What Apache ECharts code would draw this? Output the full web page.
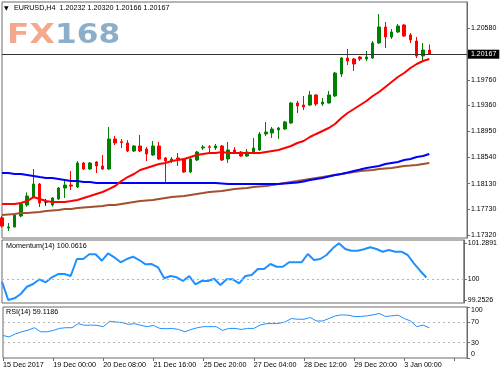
<!DOCTYPE html>
<html>
<head>
<meta charset="utf-8">
<script src="https://cdn.jsdelivr.net/npm/echarts@6/dist/echarts.min.js"></script>
<style>
html,body{margin:0;padding:0;background:#fff;}
#c{width:500px;height:375px;}
</style>
</head>
<body>
<div id="c"></div>
<script>
// ---- data ----
const times = [
'15 Dec 16:00','15 Dec 20:00',
'18 Dec 00:00','18 Dec 04:00','18 Dec 08:00','18 Dec 12:00','18 Dec 16:00','18 Dec 20:00',
'19 Dec 00:00','19 Dec 04:00','19 Dec 08:00','19 Dec 12:00','19 Dec 16:00','19 Dec 20:00',
'20 Dec 00:00','20 Dec 04:00','20 Dec 08:00','20 Dec 12:00','20 Dec 16:00','20 Dec 20:00',
'21 Dec 00:00','21 Dec 04:00','21 Dec 08:00','21 Dec 12:00','21 Dec 16:00','21 Dec 20:00',
'22 Dec 00:00','22 Dec 04:00','22 Dec 08:00','22 Dec 12:00','22 Dec 16:00','22 Dec 20:00',
'25 Dec 20:00',
'26 Dec 00:00','26 Dec 04:00','26 Dec 08:00','26 Dec 12:00','26 Dec 16:00','26 Dec 20:00',
'27 Dec 00:00','27 Dec 04:00','27 Dec 08:00','27 Dec 12:00','27 Dec 16:00','27 Dec 20:00',
'28 Dec 00:00','28 Dec 04:00','28 Dec 08:00','28 Dec 12:00','28 Dec 16:00','28 Dec 20:00',
'29 Dec 00:00','29 Dec 04:00','29 Dec 08:00','29 Dec 12:00','29 Dec 16:00','29 Dec 20:00',
'1 Jan 20:00',
'2 Jan 00:00','2 Jan 04:00','2 Jan 08:00','2 Jan 12:00','2 Jan 16:00','2 Jan 20:00',
'3 Jan 00:00','3 Jan 04:00','3 Jan 08:00','3 Jan 12:00','3 Jan 16:00',
'3 Jan 20:00','4 Jan 00:00','4 Jan 04:00','4 Jan 08:00','4 Jan 12:00','4 Jan 16:00'
];
const xTickLabels = ['15 Dec 2017','19 Dec 00:00','20 Dec 08:00','21 Dec 16:00','25 Dec 20:00','27 Dec 04:00','28 Dec 12:00','29 Dec 20:00','3 Jan 00:00'];

const opens = [1.17590,1.17430,1.17446,1.17619,1.17792,1.17918,1.18123,1.17840,1.17792,1.17887,
1.18060,1.18107,1.18076,1.18454,1.18359,1.18470,1.18407,1.18359,1.18832,1.18790,
1.18769,1.18643,1.18722,1.18674,1.18580,1.18722,1.18533,1.18485,1.18533,1.18517,
1.18312,1.18501,1.18690,1.18710,1.18690,1.18722,1.18517,1.18659,1.18627,1.18564,
1.18627,1.18659,1.18911,1.18926,1.18974,1.18989,1.19084,1.19399,1.19367,1.19367,
1.19525,1.19383,1.19399,1.19509,1.19855,1.20107,1.20092,1.20123,1.20092,1.20107,
1.20344,1.20596,1.20438,1.20517,1.20627,1.20470,1.20375,1.20139,1.20232];
const closes = [1.17460,1.17446,1.17635,1.17808,1.17934,1.18123,1.17824,1.17840,1.17903,1.18060,
1.18107,1.18090,1.18454,1.18359,1.18454,1.18407,1.18359,1.18832,1.18769,1.18775,
1.18643,1.18722,1.18643,1.18596,1.18722,1.18517,1.18485,1.18517,1.18517,1.18312,
1.18517,1.18627,1.18706,1.18700,1.18722,1.18501,1.18659,1.18611,1.18564,1.18627,
1.18690,1.18911,1.18942,1.18989,1.19005,1.19100,1.19399,1.19351,1.19336,1.19525,
1.19383,1.19414,1.19525,1.19871,1.20107,1.20060,1.20013,1.20092,1.20123,1.20344,
1.20596,1.20438,1.20517,1.20611,1.20454,1.20391,1.20139,1.20233,1.20167];
const lows = [1.17440,1.17383,1.17440,1.17600,1.17765,1.17900,1.17760,1.17780,1.17770,1.17870,
1.17903,1.18029,1.18060,1.18344,1.18344,1.18296,1.18344,1.18344,1.18737,1.18690,
1.18627,1.18627,1.18627,1.18485,1.18564,1.18501,1.18155,1.18454,1.18407,1.18296,
1.18296,1.18485,1.18659,1.18627,1.18659,1.18485,1.18454,1.18600,1.18548,1.18548,
1.18620,1.18643,1.18879,1.18848,1.18832,1.18974,1.19070,1.19241,1.19288,1.19351,
1.19351,1.19351,1.19390,1.19493,1.19808,1.19997,1.19903,1.20060,1.20060,1.20092,
1.20328,1.20265,1.20407,1.20501,1.20438,1.20344,1.20107,1.20076,1.20166];
const highs = [1.17620,1.17509,1.17650,1.17824,1.17990,1.18359,1.18140,1.17887,1.17918,1.18076,
1.18186,1.18328,1.18485,1.18470,1.18470,1.18485,1.18580,1.19021,1.18879,1.18832,
1.18815,1.18737,1.18895,1.18706,1.18800,1.18785,1.18548,1.18548,1.18611,1.18533,
1.18548,1.18643,1.18737,1.18737,1.18753,1.18737,1.18785,1.18706,1.18643,1.18674,
1.18848,1.18942,1.19100,1.19021,1.19021,1.19116,1.19414,1.19430,1.19509,1.19588,
1.19540,1.19477,1.19588,1.19887,1.20123,1.20249,1.20107,1.20139,1.20218,1.20375,
1.20800,1.20674,1.20564,1.20643,1.20643,1.20501,1.20438,1.20344,1.20320];

const maRed = [1.17808,1.17808,1.17808,1.17824,1.17855,1.17918,1.17887,1.17855,1.17840,1.17840,
1.17840,1.17855,1.17871,1.17903,1.17934,1.17966,1.17997,1.18044,1.18092,1.18170,
1.18233,1.18281,1.18344,1.18375,1.18407,1.18438,1.18454,1.18485,1.18501,1.18517,
1.18548,1.18580,1.18596,1.18611,1.18611,1.18627,1.18611,1.18611,1.18611,1.18611,
1.18611,1.18611,1.18627,1.18643,1.18659,1.18690,1.18722,1.18769,1.18800,1.18863,
1.18911,1.18958,1.19005,1.19068,1.19163,1.19241,1.19304,1.19367,1.19430,1.19509,
1.19572,1.19651,1.19729,1.19808,1.19871,1.19950,1.20013,1.20060,1.20092];
const maBlue = [1.18296,1.18296,1.18281,1.18281,1.18265,1.18249,1.18233,1.18218,1.18218,1.18202,
1.18186,1.18170,1.18170,1.18155,1.18155,1.18139,1.18139,1.18139,1.18139,1.18139,
1.18139,1.18139,1.18139,1.18139,1.18139,1.18139,1.18139,1.18139,1.18139,1.18139,
1.18139,1.18139,1.18139,1.18139,1.18139,1.18131,1.18123,1.18123,1.18123,1.18123,
1.18123,1.18123,1.18123,1.18123,1.18123,1.18131,1.18139,1.18147,1.18162,1.18186,
1.18202,1.18218,1.18241,1.18265,1.18281,1.18304,1.18328,1.18351,1.18375,1.18391,
1.18407,1.18438,1.18454,1.18470,1.18501,1.18517,1.18548,1.18564,1.18596];
const maBrown = [1.17635,1.17643,1.17651,1.17666,1.17666,1.17674,1.17682,1.17698,1.17706,1.17714,
1.17729,1.17729,1.17745,1.17753,1.17761,1.17769,1.17777,1.17792,1.17792,1.17808,
1.17824,1.17840,1.17855,1.17863,1.17871,1.17887,1.17903,1.17918,1.17926,1.17934,
1.17950,1.17966,1.17981,1.17997,1.18005,1.18013,1.18029,1.18044,1.18052,1.18060,
1.18076,1.18084,1.18092,1.18107,1.18123,1.18139,1.18155,1.18170,1.18186,1.18202,
1.18218,1.18233,1.18249,1.18265,1.18281,1.18296,1.18312,1.18328,1.18336,1.18344,
1.18359,1.18367,1.18375,1.18391,1.18407,1.18414,1.18422,1.18438,1.18454];

const momentum = [99.910,99.2526,99.313,99.468,99.730,99.827,99.996,99.888,100.068,100.186,
100.186,100.114,100.725,100.725,100.894,100.894,100.664,100.930,100.786,100.607,
100.725,100.808,100.689,100.535,100.545,100.427,100.032,100.114,100.068,99.935,
100.114,99.816,99.935,99.935,100.017,99.791,99.996,99.996,99.852,100.114,
100.150,100.366,100.366,100.545,100.448,100.448,100.607,100.607,100.607,100.905,
100.689,100.725,100.869,101.109,101.2891,101.084,101.023,101.023,101.074,101.145,
101.084,100.987,101.048,100.987,100.987,100.869,100.571,100.305,100.0616];
const rsi = [44,41.4,47.4,51.4,54.6,59.4,51.4,51.4,54,58,
59.4,59.4,67.4,64,64.6,64,61.4,72,70.6,69.4,
66,67.4,64,61.4,64,58,57.4,58,56,51.4,
56,59.4,61.4,61.4,61.4,54,58,58,56,58,
58,64.6,67.4,67.4,68,70.6,77.4,76,76,79.4,
72.6,72.6,77.4,82.6,84.6,84,81.4,81.4,82.6,84.6,
87.4,81.4,82.6,84,77.4,72.6,61.4,64.6,59.1186];

const priceTicks = [1.17320,1.17730,1.18130,1.18540,1.18950,1.19360,1.19760,1.20580];
const momTicks = [99.2526,100,101.2891];
const rsiTicks = [0,30,70,100];
const rsiLevels = [30,70];

// ---- chart ----
const FONT = 'Liberation Sans';
const last = closes.length - 1;
const candles = opens.map((o,i)=>[o, closes[i], lows[i], highs[i]]);
const gray = '#6a6a6a';

function hiddenX(gi){
  return {type:'category', gridIndex:gi, data:times, boundaryGap:false, show:false};
}
function yAx(gi, min, max, ticks, fmt, labelExtra){
  return {
    type:'value', gridIndex:gi, position:'right', min:min, max:max, scale:true,
    splitLine:{show:false},
    axisLine:{show:true, lineStyle:{color:gray, width:1}},
    axisTick:{show:true, length:3, customValues:ticks, lineStyle:{color:gray}},
    axisLabel:Object.assign({show:true, customValues:ticks, formatter:fmt, fontSize:7, fontFamily:FONT, color:'#000', margin:4,
      showMinLabel:true, showMaxLabel:true, hideOverlap:false}, labelExtra||{})
  };
}

const chart = echarts.init(document.getElementById('c'), null, {renderer:'canvas'});
const option = {
  animation:false,
  backgroundColor:'#fff',
  grid:[
    {left:2, top:2, width:465, height:236, show:true, borderColor:gray, borderWidth:1},
    {left:2, top:240, width:465, height:63, show:true, borderColor:gray, borderWidth:1},
    {left:2, top:307, width:465, height:51, show:true, borderColor:gray, borderWidth:1}
  ],
  xAxis:[
    hiddenX(0), hiddenX(1),
    {type:'category', gridIndex:2, data:times, boundaryGap:false,
     axisLine:{show:false},
     axisTick:{show:true, interval:7, length:3, lineStyle:{color:gray}},
     axisLabel:{show:true, interval:7, align:'left', margin:4, fontSize:7.2, fontFamily:FONT, color:'#000',
       formatter:(v,i)=> (i%8===0 && xTickLabels[i/8]) ? xTickLabels[i/8] : ''}
    }
  ],
  yAxis:[
    yAx(0, 1.17273, 1.20989, priceTicks, v=>v.toFixed(5)),
    yAx(1, 99.145, 101.408, momTicks, v=> Math.abs(v-100)<1e-9 ? '100' : v.toFixed(4)),
    yAx(2, 0, 100, rsiTicks, v=>String(Math.round(v)), {verticalAlignMinLabel:'bottom', verticalAlignMaxLabel:'top'})
  ],
  series:[
    {type:'candlestick', xAxisIndex:0, yAxisIndex:0, data:candles, barWidth:3,
     itemStyle:{color:'#008000', color0:'#ff0000', borderColor:'#008000', borderColor0:'#ff0000', borderColorDoji:'#000', borderWidth:1}
    },
    {type:'line', xAxisIndex:0, yAxisIndex:0, data:maBrown, symbol:'none', lineStyle:{color:'#a0522d', width:2}, z:3},
    {type:'line', xAxisIndex:0, yAxisIndex:0, data:maBlue, symbol:'none', lineStyle:{color:'#0000ff', width:2}, z:3},
    {type:'line', xAxisIndex:0, yAxisIndex:0, data:maRed, symbol:'none', lineStyle:{color:'#ff0000', width:2}, z:3,
     markLine:{silent:true, symbol:['none','none'], animation:false, precision:5,
       lineStyle:{color:'#333', width:1, type:'solid'},
       label:{show:true, position:'end', distance:1, formatter:closes[last].toFixed(5), color:'#fff', backgroundColor:'#000',
              padding:[1,3,1,3], fontSize:7, fontFamily:FONT},
       data:[{yAxis:closes[last]}]}
    },
    {type:'line', xAxisIndex:1, yAxisIndex:1, data:momentum, symbol:'none', lineStyle:{color:'#1e90ff', width:2}, z:3,
     markLine:{silent:true, symbol:['none','none'], precision:4, label:{show:false}, lineStyle:{color:'#b4b4b4', width:1, type:[2,3]}, data:[{yAxis:100}]}},
    {type:'line', xAxisIndex:2, yAxisIndex:2, data:rsi, symbol:'none', lineStyle:{color:'#1e90ff', width:1}, z:3,
     markLine:{silent:true, symbol:['none','none'], label:{show:false}, lineStyle:{color:'#b4b4b4', width:1, type:[2,3]}, data:rsiLevels.map(v=>({yAxis:v}))}}
  ],
  graphic:[
    {type:'text', x:4, y:8, style:{text:'\u25BC', font:'6px "DejaVu Sans"', fill:'#000', verticalAlign:'middle', textVerticalAlign:'middle'}},
    {type:'text', x:14, y:8, style:{text:'EURUSD,H4  ' + [opens[last],highs[last],lows[last],closes[last]].map(v=>v.toFixed(5)).join(' '),
       font:'7.2px "'+FONT+'"', fill:'#000', verticalAlign:'middle', textVerticalAlign:'middle'}},
    {type:'text', x:7, y:36, scaleX:1.26, z:-1, style:{text:'FX', font:'bold 26px "DejaVu Sans"', fill:'#f4a98e', verticalAlign:'middle', textVerticalAlign:'middle'}},
    {type:'text', x:55, y:36, scaleX:1.2, z:-1, style:{text:'168', font:'bold 26px "DejaVu Sans"', fill:'#8caec9', verticalAlign:'middle', textVerticalAlign:'middle'}},
    {type:'text', x:6, y:246, style:{text:'Momentum(14) ' + momentum[last].toFixed(4), font:'7.2px "'+FONT+'"', fill:'#000', verticalAlign:'middle', textVerticalAlign:'middle'}},
    {type:'text', x:6, y:312, style:{text:'RSI(14) ' + rsi[last].toFixed(4), font:'7.2px "'+FONT+'"', fill:'#000', verticalAlign:'middle', textVerticalAlign:'middle'}}
  ]
};
chart.setOption(option);
</script>
</body>
</html>
